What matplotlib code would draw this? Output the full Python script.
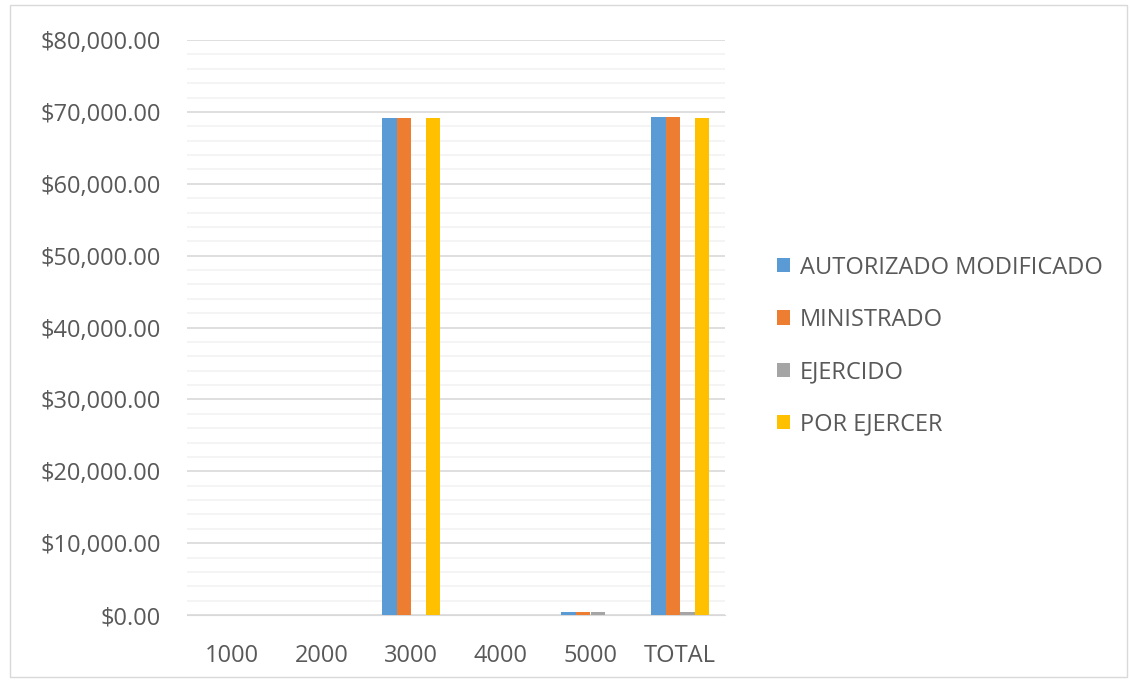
import numpy as np
import matplotlib.pyplot as plt
from matplotlib.ticker import MultipleLocator, FuncFormatter
from matplotlib.patches import Rectangle

categorias = ['1000', '2000', '3000', '4000', '5000', 'TOTAL']
autorizado = [0, 0, 69200, 0, 350, 69300]
ministrado = [0, 0, 69200, 0, 350, 69300]
ejercido = [0, 0, 0, 0, 350, 350]
por_ejercer = [0, 0, 69200, 0, 0, 69200]

series = [
    ('AUTORIZADO MODIFICADO', autorizado, '#5B9BD5'),
    ('MINISTRADO', ministrado, '#ED7D31'),
    ('EJERCIDO', ejercido, '#A5A5A5'),
    ('POR EJERCER', por_ejercer, '#FFC000'),
]

plt.rcParams['font.family'] = ['Open Sans', 'DejaVu Sans']
texto = '#595959'

fig = plt.figure(figsize=(11.3, 6.8), dpi=100)
ax = fig.add_axes([187 / 1130, 1 - 615 / 680, (725 - 187) / 1130, (615 - 40) / 680])

# borde del gráfico
fig.patches.append(Rectangle((10 / 1130, 3 / 680), 1117 / 1130, 672 / 680, transform=fig.transFigure,
                             fill=False, edgecolor='#D9D9D9', linewidth=1))

x = np.arange(len(categorias))
ancho = 0.162
for i, (nombre, valores, color) in enumerate(series):
    ax.bar(x + (i - 1.5) * ancho, valores, ancho, color=color, label=nombre, zorder=3)

ax.set_xlim(-0.5, len(categorias) - 0.5)
ax.set_ylim(0, 80000)
ax.yaxis.set_major_locator(MultipleLocator(10000))
ax.yaxis.set_minor_locator(MultipleLocator(2000))
ax.yaxis.set_major_formatter(FuncFormatter(lambda v, p: f'${v:,.2f}'))
ax.grid(axis='y', which='major', color='#D9D9D9', linewidth=1.2, zorder=0)
ax.grid(axis='y', which='minor', color='#F2F2F2', linewidth=1.2, zorder=0)
ax.set_xticks(x)
ax.set_xticklabels(categorias)
ax.tick_params(axis='both', which='both', length=0, labelsize=17, colors=texto)
ax.tick_params(axis='x', pad=21)
ax.tick_params(axis='y', pad=19)
for s in ['top', 'right', 'left']:
    ax.spines[s].set_visible(False)
ax.spines['bottom'].set_color('#D9D9D9')

ax.legend(loc='center left', bbox_to_anchor=(756 / 1130, 1 - 346 / 680), bbox_transform=fig.transFigure,
          frameon=False, fontsize=17, labelcolor=texto, handlelength=0.55, handleheight=0.55,
          handletextpad=0.42, labelspacing=1.2)

fig.savefig('out.png', dpi=100)
